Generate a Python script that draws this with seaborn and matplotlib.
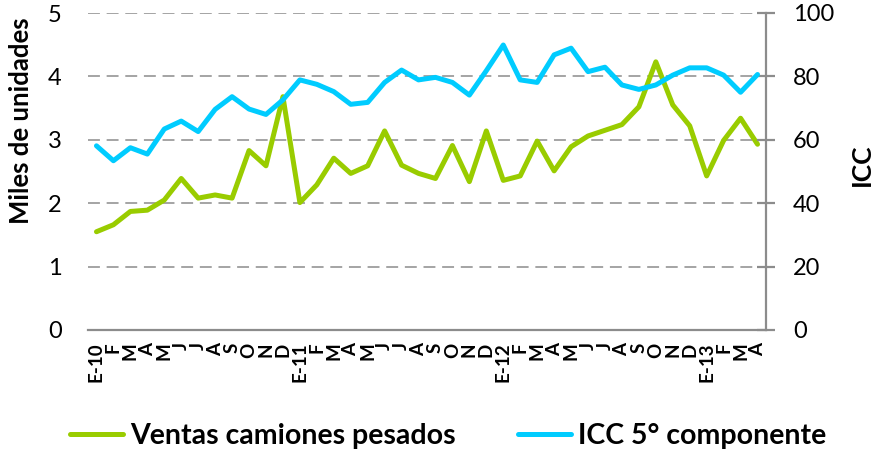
import matplotlib
matplotlib.use("Agg")
import matplotlib.pyplot as plt
from matplotlib.lines import Line2D
import seaborn as sns
import pandas as pd

meses = ["E-10", "F", "M", "A", "M", "J", "J", "A", "S", "O", "N", "D",
         "E-11", "F", "M", "A", "M", "J", "J", "A", "S", "O", "N", "D",
         "E-12", "F", "M", "A", "M", "J", "J", "A", "S", "O", "N", "D",
         "E-13", "F", "M", "A"]
ventas = [1.55, 1.66, 1.87, 1.89, 2.05, 2.39, 2.08, 2.13, 2.08, 2.83, 2.59, 3.68,
          2.01, 2.29, 2.71, 2.47, 2.59, 3.14, 2.60, 2.47, 2.39, 2.91, 2.34, 3.14,
          2.36, 2.43, 2.98, 2.51, 2.89, 3.06, 3.15, 3.24, 3.52, 4.23, 3.55, 3.22,
          2.43, 2.99, 3.34, 2.93]
icc = [58.1, 53.4, 57.5, 55.5, 63.4, 65.9, 62.6, 69.6, 73.6, 69.7, 68.0, 72.6,
       78.9, 77.5, 75.2, 71.2, 71.8, 78.1, 82.0, 78.9, 79.7, 78.1, 74.1, 81.8,
       89.9, 78.9, 78.1, 86.8, 88.9, 81.5, 82.9, 77.3, 75.9, 77.3, 80.4, 82.7,
       82.7, 80.4, 75.0, 80.6]
left_ticks = [0, 1, 2, 3, 4, 5]
right_ticks = [0, 20, 40, 60, 80, 100]
serie1 = "Ventas camiones pesados"
serie2 = "ICC 5° componente"
ylabel_left = "Miles de unidades"
ylabel_right = "ICC"

sns.set_style("white")
plt.rcParams["font.family"] = ["Lato", "DejaVu Sans"]
plt.rcParams["text.color"] = "black"
plt.rcParams["axes.labelcolor"] = "black"
plt.rcParams["xtick.color"] = "black"
plt.rcParams["ytick.color"] = "black"

GREEN = "#99CC00"
BLUE = "#00CCFF"
GRAY = "#8C8C8C"

df = pd.DataFrame({"idx": range(len(meses)), "ventas": ventas, "icc": icc})

fig = plt.figure(figsize=(8.78, 4.54), dpi=100)
ax = fig.add_axes([88 / 878, 1 - 330 / 454, (766 - 88) / 878, (330 - 13) / 454])
ax2 = ax.twinx()

sns.lineplot(data=df, x="idx", y="ventas", ax=ax, color=GREEN, linewidth=3.6)
sns.lineplot(data=df, x="idx", y="icc", ax=ax2, color=BLUE, linewidth=3.6)

ax.set_xlim(-0.5, len(meses) - 0.5)
ax.set_ylim(0, 5)
ax2.set_ylim(0, 100)
ax.set_yticks(left_ticks)
ax.set_yticklabels([str(t) for t in left_ticks], fontsize=17)
ax2.set_yticks(right_ticks)
ax2.set_yticklabels([str(t) for t in right_ticks], fontsize=17)
ax.set_xticks(range(len(meses)))
ax.set_xticklabels(meses, rotation=90, fontsize=13.5, fontweight="bold",
                   ha="center", va="top")

ax.yaxis.grid(True, color=GRAY, linewidth=1.1, linestyle=(0, (7.8, 4.4)))
ax.xaxis.grid(False)
ax2.grid(False)

for a in (ax, ax2):
    for s in a.spines.values():
        s.set_visible(False)
ax.spines["bottom"].set_visible(True)
ax.spines["bottom"].set_color(GRAY)
ax.spines["bottom"].set_linewidth(1.6)
ax2.spines["right"].set_visible(True)
ax2.spines["right"].set_color(GRAY)
ax2.spines["right"].set_linewidth(1.6)

ax.tick_params(axis="y", length=0, pad=19, labelcolor="black")
ax.tick_params(axis="x", length=0, pad=9, labelcolor="black")
ax2.tick_params(axis="y", direction="inout", length=13, width=1.6, color=GRAY,
                pad=13, labelcolor="black")

ax.set_xlabel("")
ax.set_ylabel(ylabel_left, fontsize=18.5, fontweight="bold", color="black")
ax.yaxis.set_label_coords(-0.081, 0.66)
ax2.set_ylabel(ylabel_right, fontsize=19, fontweight="bold", rotation=90,
               color="black")
ax2.yaxis.set_label_coords(1.124, 0.52)

handles = [Line2D([], [], color=GREEN, linewidth=3.6),
           Line2D([], [], color=BLUE, linewidth=3.6)]
fig.legend(handles, [serie1, serie2], loc="center left",
           bbox_to_anchor=(70 / 878, 1 - 436 / 454), ncol=2, frameon=False,
           prop={"size": 20.5, "weight": "bold"}, handlelength=1.85,
           handletextpad=0.25, columnspacing=2.2, borderaxespad=0,
           borderpad=0)

fig.savefig("out.png", dpi=100)
